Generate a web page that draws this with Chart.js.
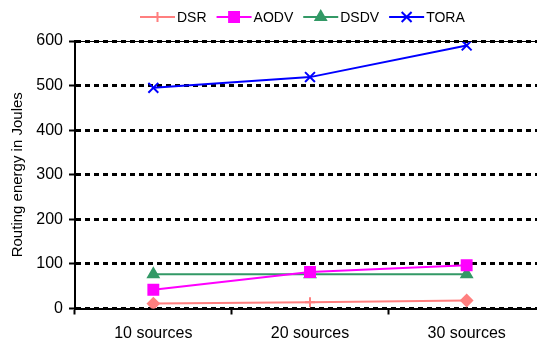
<!DOCTYPE html>
<html>
<head>
<meta charset="utf-8">
<script src="https://cdn.jsdelivr.net/npm/chart.js@4/dist/chart.umd.min.js"></script>
<style>
    html, body { margin: 0; padding: 0; background: #fff; }
    #wrap { width: 537px; height: 340px; overflow: hidden; position: relative; }
    canvas { display: block; }
</style>
</head>
<body>
<div id="wrap"><canvas id="chart" width="554" height="340" style="width:554px;height:340px"></canvas></div>
<script>
const labels = ['10 sources', '20 sources', '30 sources'];
const dsr = [11, 14, 18];
const aodv = [42, 82, 97];
const dsdv = [77, 77, 77];
const tora = [495, 519, 590];
const yTicks = [0, 100, 200, 300, 400, 500, 600];

const FONT = "'Liberation Sans', Arial, sans-serif";

// legend: a line with the marker on it, then the name
const lineLegend = {
    id: 'lineLegend',
    afterDraw(chart) {
        const ctx = chart.ctx;
        const y = 17;
        let x = 140;
        ctx.save();
        ctx.font = '14px ' + FONT;
        ctx.textBaseline = 'middle';
        chart.data.datasets.forEach(ds => {
            ctx.strokeStyle = ds.borderColor;
            ctx.lineWidth = 2;
            ctx.beginPath();
            ctx.moveTo(x, y);
            ctx.lineTo(x + 35, y);
            ctx.stroke();
            if (Chart.helpers && Chart.helpers.drawPoint) {
                ctx.fillStyle = ds.pointBackgroundColor;
                ctx.strokeStyle = ds.pointBorderColor;
                ctx.lineWidth = ds.pointBorderWidth;
                Chart.helpers.drawPoint(ctx, {
                    pointStyle: ds.legendStyle,
                    radius: ds.legendRadius,
                    borderWidth: ds.pointBorderWidth,
                    rotation: 0,
                }, x + 17.5, y);
            }
            ctx.fillStyle = '#000';
            ctx.fillText(ds.label, x + 37, y + 1);
            x += 37 + ctx.measureText(ds.label).width + 10;
        });
        // solid top edge under the dotted 600 line
        const a = chart.chartArea;
        ctx.strokeStyle = '#000';
        ctx.lineWidth = 1;
        ctx.beginPath();
        ctx.moveTo(a.left, a.top + 0.5);
        ctx.lineTo(a.right, a.top + 0.5);
        ctx.stroke();
        ctx.restore();
    },
};

function series(label, values, color, style, radius, legendStyle, legendRadius) {
    return {
        label,
        data: values,
        borderColor: color,
        backgroundColor: color,
        pointBackgroundColor: color,
        pointBorderColor: color,
        pointBorderWidth: 2,
        borderWidth: 2,
        pointStyle: style,
        pointRadius: radius,
        pointHoverRadius: radius,
        legendStyle,
        legendRadius,
        tension: 0,
    };
}

new Chart(document.getElementById('chart'), {
    type: 'line',
    data: {
        labels,
        datasets: [
            series('DSR', dsr, '#FF7F7F', ['rectRot', 'cross', 'rectRot'], [5.5, 5, 5.5], 'cross', 5),
            series('AODV', aodv, '#FF00FF', 'rect', 7, 'rect', 7),
            series('DSDV', dsdv, '#339966', 'triangle', 6, 'triangle', 6),
            series('TORA', tora, '#0000FF', 'crossRot', 7, 'crossRot', 7),
        ],
    },
    options: {
        responsive: false,
        animation: false,
        layout: { padding: { top: 41, right: 1, left: 0, bottom: 0 } },
        plugins: {
            legend: { display: false },
            tooltip: { enabled: false },
        },
        scales: {
            x: {
                offset: true,
                grid: {
                    offset: true,
                    drawOnChartArea: false,
                    drawTicks: true,
                    tickLength: 6,
                    tickColor: '#000',
                    tickWidth: 2,
                },
                border: { display: true, color: '#000', width: 2 },
                ticks: {
                    color: '#000',
                    padding: 9,
                    maxRotation: 0,
                    font: { family: FONT, size: 16 },
                },
                afterFit: s => {
                    s.height = 31.5;
                    s.paddingLeft = 0;
                    s.paddingRight = 0;
                },
            },
            y: {
                min: 0,
                max: 600,
                afterBuildTicks: s => { s.ticks = yTicks.map(v => ({ value: v })); },
                grid: {
                    color: '#000',
                    lineWidth: 3,
                    tickLength: 6,
                    tickColor: '#000',
                    tickWidth: 2,
                },
                border: { display: true, color: '#000', width: 2, dash: [5, 4] },
                ticks: {
                    color: '#000',
                    padding: 6,
                    font: { family: FONT, size: 16 },
                },
                title: {
                    display: true,
                    text: 'Routing energy in Joules',
                    color: '#000',
                    padding: { top: 9, bottom: 0 },
                    font: { family: FONT, size: 15 },
                },
                afterFit: s => { s.width = 75; },
            },
        },
    },
    plugins: [lineLegend],
});
</script>
</body>
</html>
